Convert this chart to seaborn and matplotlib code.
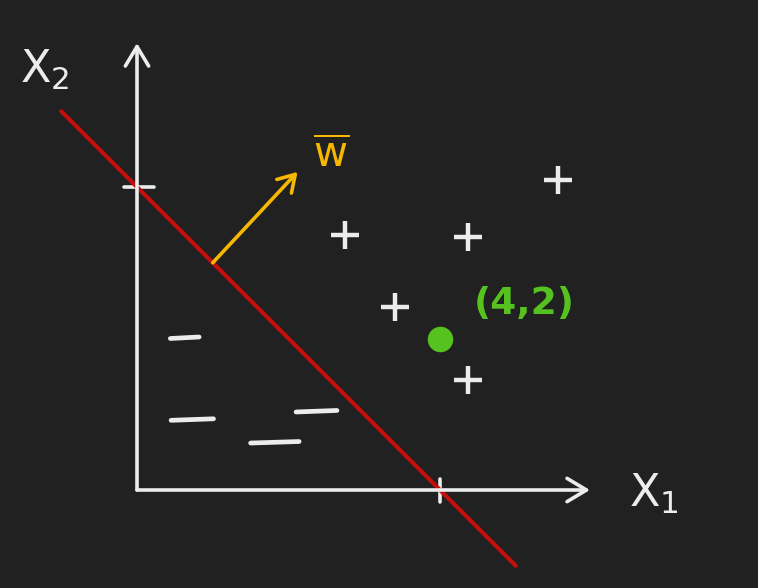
import numpy as np
import pandas as pd
import matplotlib
matplotlib.use('Agg')
import matplotlib.pyplot as plt
import seaborn as sns

# ---- data (in units of the sketch, origin at the axes corner) ----
plus_x = [2.75, 4.37, 5.56, 3.41, 4.37]
plus_y = [3.37, 3.34, 4.09, 2.42, 1.45]
minus_x = [0.63, 0.73, 1.82, 2.37]
minus_y = [2.00, 0.92, 0.62, 1.03]
minus_len = [0.38, 0.56, 0.64, 0.54]

boundary_x = [-1.0, 5.0]          # x1 + x2 = 4
boundary_y = [5.0, -1.0]
w_start = (1.0, 3.0)
w_end = (2.12, 4.20)
point = (4, 2)

x_axis_end = 5.98
y_axis_end = 5.9
tick_at = 4

bg = '#212121'
white = '#ececec'
red = '#c40d0d'
yellow = '#f6b800'
green = '#56c220'

sns.set_style('dark')
plt.rcParams['font.family'] = ['DejaVu Sans']

fig = plt.figure(figsize=(7.58, 5.88), dpi=100, facecolor=bg)
ax = fig.add_axes([0, 0, 1, 1])
ax.set_facecolor(bg)
unit = 75.75
ax.set_xlim(-137 / unit, (758 - 137) / unit)
ax.set_ylim(-(588 - 490) / unit, 490 / unit)
ax.axis('off')

# axes with open arrow heads
axis_arrow = dict(arrowstyle='->,head_length=0.7,head_width=0.42', mutation_scale=20,
                  color=white, lw=2.6, shrinkA=0, shrinkB=0)
ax.annotate('', xy=(x_axis_end, 0), xytext=(0, 0), arrowprops=axis_arrow)
ax.annotate('', xy=(0, y_axis_end), xytext=(0, 0), arrowprops=axis_arrow)

# tick marks
ax.plot([-0.17, 0.23], [tick_at, tick_at], color=white, lw=2.6, solid_capstyle='round')
ax.plot([tick_at, tick_at], [-0.16, 0.14], color=white, lw=2.6, solid_capstyle='round')

# decision boundary
sns.lineplot(x=boundary_x, y=boundary_y, color=red, lw=3.0, ax=ax, sort=False)

# weight vector
ax.annotate('', xy=w_end, xytext=w_start,
            arrowprops=dict(arrowstyle='->,head_length=0.65,head_width=0.4',
                            mutation_scale=18, color=yellow, lw=2.6,
                            shrinkA=0, shrinkB=0))

# + and - samples
plus_df = pd.DataFrame({'x': plus_x, 'y': plus_y})
sns.scatterplot(data=plus_df, x='x', y='y', marker='+', s=20 ** 2,
                color=white, linewidth=3.2, ax=ax)
for mx, my, ml in zip(minus_x, minus_y, minus_len):
    ax.plot([mx - ml / 2, mx + ml / 2], [my, my + 0.02], color=white, lw=3.4,
            solid_capstyle='round')

# highlighted point
sns.scatterplot(x=[point[0]], y=[point[1]], s=17 ** 2, color=green,
                edgecolor=green, ax=ax)

# labels
ax.text(-1.55, 5.55, 'X$_2$', color=white, fontsize=32, ha='left', va='center')
ax.text(6.5, -0.05, 'X$_1$', color=white, fontsize=32, ha='left', va='center')
ax.text(2.33, 4.42, r'$\overline{\mathrm{w}}$', color=yellow, fontsize=30,
        ha='left', va='center')
ax.text(4.45, 2.45, '(4,2)', color=green, fontsize=27, ha='left', va='center',
        fontweight='bold')

fig.savefig('out.png', dpi=100, facecolor=bg)
